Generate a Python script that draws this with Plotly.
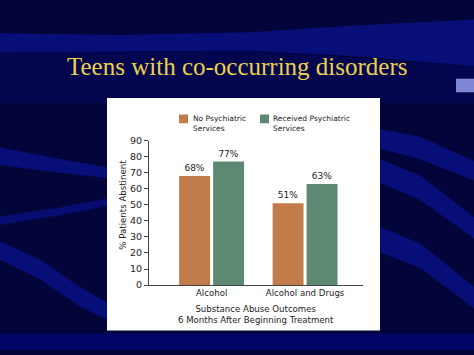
import plotly.graph_objects as go

# ---- data ----
categories = ["Alcohol", "Alcohol and Drugs"]
series_names = ["No Psychiatric<br>Services", "Received Psychiatric<br>Services"]
no_psych = [68, 51]
received_psych = [77, 63]
y_tick_vals = [0, 10, 20, 30, 40, 50, 60, 70, 80, 90]
slide_title = "Teens with co-occurring disorders"
x_title = "Substance Abuse Outcomes<br>6 Months After Beginning Treatment"
y_title = "% Patients Abstinent"

# ---- styling ----
W, H = 474, 355
ORANGE = "#c27b4b"
GREEN = "#5d8973"
TEXT = "#222222"
AXIS = "#444444"
FONT = "DejaVu Sans"


def px(x):
    return x / W


def py(y):
    return 1 - y / H


def path(points):
    return "M " + " L ".join(f"{px(x):.4f},{py(y):.4f}" for x, y in points) + " Z"


fig = go.Figure()
fig.add_trace(go.Bar(
    x=categories, y=no_psych, name=series_names[0], marker_color=ORANGE,
    marker_line_width=0, texttemplate="%{y}%", textposition="outside",
    textfont=dict(family=FONT, size=9, color=TEXT), cliponaxis=False,
))
fig.add_trace(go.Bar(
    x=categories, y=received_psych, name=series_names[1], marker_color=GREEN,
    marker_line_width=0, texttemplate="%{y}%", textposition="outside",
    textfont=dict(family=FONT, size=9, color=TEXT), cliponaxis=False,
))

shapes = []
band = "#0a1188"


def wave(points, opacity=0.8, color=band):
    shapes.append(dict(type="path", xref="paper", yref="paper", layer="below",
                       path=path(points), fillcolor=color, line_width=0, opacity=opacity))


# background waves (decoration)
wave([(0, 28), (120, 30), (250, 27), (360, 20), (474, 14),
      (474, 62), (360, 52), (250, 46), (120, 47), (0, 48)], 0.8)
wave([(0, 48), (120, 47), (250, 46), (474, 62), (474, 100), (0, 100)], 0.45, "#05086a")
wave([(0, 146), (60, 158), (110, 167), (110, 178), (60, 172), (0, 164)])
wave([(0, 217), (60, 208), (110, 198), (110, 206), (60, 216), (0, 226)], 0.7)
wave([(0, 243), (40, 262), (80, 290), (110, 308), (110, 325), (80, 310), (40, 282), (0, 262)])
wave([(375, 126), (420, 135), (474, 160), (474, 180), (420, 158), (375, 146)])
wave([(375, 156), (420, 175), (474, 218), (474, 240), (420, 200), (375, 180)])
wave([(375, 226), (420, 245), (474, 290), (474, 312), (420, 270), (375, 252)])
shapes.append(dict(type="rect", xref="paper", yref="paper", layer="below",
                   x0=0, x1=1, y0=py(355), y1=py(338), fillcolor="#020670", line_width=0, opacity=0.8))
shapes.append(dict(type="rect", xref="paper", yref="paper", layer="below",
                   x0=px(456), x1=px(474), y0=py(89), y1=py(75), fillcolor="#7f86d6", line_width=0))
# white chart panel
shapes.append(dict(type="rect", xref="paper", yref="paper", layer="below",
                   x0=px(107), x1=px(380), y0=py(335), y1=py(95),
                   fillcolor="#ffffff", line_width=0))
# legend swatches
shapes.append(dict(type="rect", xref="paper", yref="paper",
                   x0=px(179), x1=px(188), y0=py(121), y1=py(112),
                   fillcolor=ORANGE, line_width=0))
shapes.append(dict(type="rect", xref="paper", yref="paper",
                   x0=px(260), x1=px(269), y0=py(121), y1=py(112),
                   fillcolor=GREEN, line_width=0))

annotations = [
    dict(text=slide_title, x=px(237), y=py(62), xref="paper", yref="paper",
         xanchor="center", yanchor="middle", showarrow=False,
         font=dict(family="Liberation Serif", size=25, color="#ecd04a")),
    dict(text=series_names[0], x=px(191), y=py(109), xref="paper", yref="paper",
         xanchor="left", yanchor="top", align="left", showarrow=False,
         font=dict(family=FONT, size=7.5, color=TEXT)),
    dict(text=series_names[1], x=px(271), y=py(109), xref="paper", yref="paper",
         xanchor="left", yanchor="top", align="left", showarrow=False,
         font=dict(family=FONT, size=7.5, color=TEXT)),
    dict(text=y_title, x=px(123), y=py(205), xref="paper", yref="paper",
         xanchor="center", yanchor="middle", textangle=-90, showarrow=False,
         font=dict(family=FONT, size=8.6, color=TEXT)),
    dict(text=x_title, x=px(256), y=py(318), xref="paper", yref="paper",
         xanchor="center", yanchor="middle", showarrow=False,
         font=dict(family=FONT, size=8.6, color=TEXT)),
]

fig.update_layout(
    width=W, height=H, margin=dict(l=0, r=0, t=0, b=0),
    paper_bgcolor="#03043a", plot_bgcolor="rgba(0,0,0,0)",
    showlegend=False, barmode="group", bargap=0.273, bargroupgap=0.09,
    shapes=shapes, annotations=annotations,
    font=dict(family=FONT, color=TEXT),
)
fig.update_xaxes(
    domain=[px(149), px(363)], range=[-0.67, 1.62], showline=True, linecolor=AXIS,
    linewidth=1, ticks="", showgrid=False, zeroline=False,
    tickfont=dict(family=FONT, size=8.6, color=TEXT),
)
fig.update_yaxes(
    domain=[py(288), py(139)], range=[0, 90], tickvals=y_tick_vals, showline=True,
    linecolor=AXIS, linewidth=1, ticks="outside", ticklen=4, tickcolor=AXIS,
    showgrid=False, zeroline=False, tickfont=dict(family=FONT, size=9.5, color=TEXT),
)

fig.write_html("out.html")
